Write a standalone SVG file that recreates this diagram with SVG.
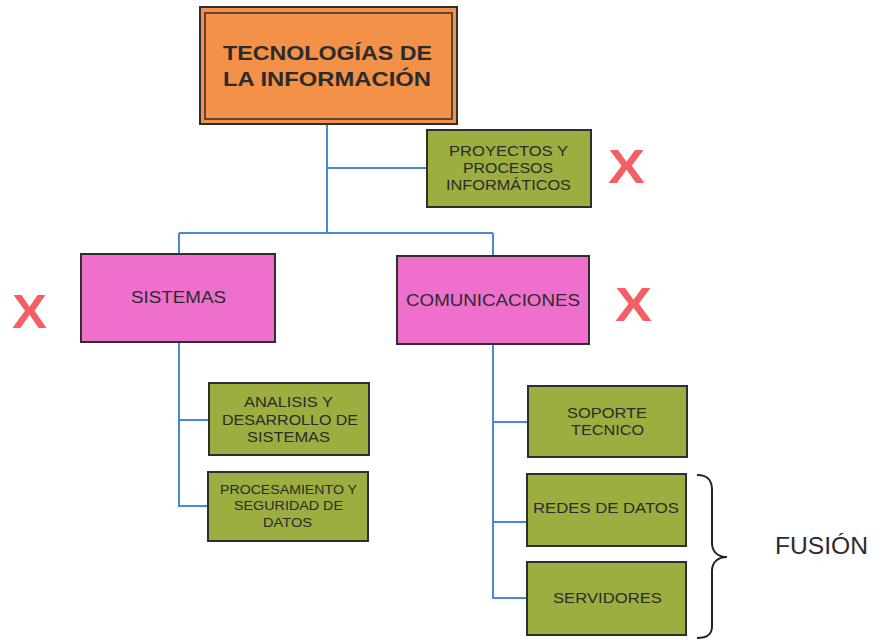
<svg xmlns="http://www.w3.org/2000/svg" width="883" height="640" viewBox="0 0 883 640">
<style>
  text { font-family: "Liberation Sans", Arial, sans-serif; fill: #2b2b2b; }
  .box { stroke: #2e2e2e; stroke-width: 2; }
  .orange { fill: #f39149; }
  .green { fill: #9bae3f; }
  .pink { fill: #ef6fcd; }
  .conn { fill: none; stroke: #4a87d6; stroke-width: 2; }
  .x { font-weight: bold; fill: #f55f63; font-size: 48px; }
  .t14 { font-size: 14px; }
  .t12 { font-size: 12px; }
  .t15 { font-size: 15px; }
  .t16 { font-size: 16px; }
  .title { font-size: 21px; font-weight: bold; }
</style>
<rect width="883" height="640" fill="#ffffff"/>
<g id="connectors">
  <path class="conn" d="M327 124 V233 M327 168 H427 M179 233 H493 M179 233 V254 M493 233 V256"/>
  <path class="conn" d="M179 342 V506 H208 M179 420 H209"/>
  <path class="conn" d="M493 344 V598 H527 M493 422 H528 M493 522 H527"/>
</g>
<g id="tecnologias">
  <rect class="box orange" x="200" y="7" width="257" height="117"/>
  <rect x="205" y="13" width="247" height="106" fill="none" stroke="#2e2e2e" stroke-width="1.5"/>
  <text class="title" x="223" y="60" textLength="209" lengthAdjust="spacingAndGlyphs">TECNOLOGÍAS DE</text>
  <text class="title" x="223" y="86" textLength="208" lengthAdjust="spacingAndGlyphs">LA INFORMACIÓN</text>
</g>
<g id="proyectos">
  <rect class="box green" x="427" y="130" width="164" height="77"/>
  <text class="t14" x="449" y="156" textLength="119" lengthAdjust="spacingAndGlyphs">PROYECTOS Y</text>
  <text class="t14" x="463" y="173" textLength="90" lengthAdjust="spacingAndGlyphs">PROCESOS</text>
  <text class="t14" x="446" y="190" textLength="125" lengthAdjust="spacingAndGlyphs">INFORMÁTICOS</text>
</g>
<g id="sistemas">
  <rect class="box pink" x="81" y="254" width="194" height="88"/>
  <text class="t16" x="131" y="303" textLength="95" lengthAdjust="spacingAndGlyphs">SISTEMAS</text>
</g>
<g id="comunicaciones">
  <rect class="box pink" x="397" y="256" width="192" height="88"/>
  <text class="t16" x="406" y="306" textLength="174" lengthAdjust="spacingAndGlyphs">COMUNICACIONES</text>
</g>
<g id="analisis">
  <rect class="box green" x="209" y="383" width="160" height="72"/>
  <text class="t14" x="244" y="407" textLength="89" lengthAdjust="spacingAndGlyphs">ANALISIS Y</text>
  <text class="t14" x="222" y="425" textLength="136" lengthAdjust="spacingAndGlyphs">DESARROLLO DE</text>
  <text class="t14" x="247" y="442" textLength="83" lengthAdjust="spacingAndGlyphs">SISTEMAS</text>
</g>
<g id="procesamiento">
  <rect class="box green" x="208" y="472" width="160" height="69"/>
  <text class="t12" x="220" y="494" textLength="137" lengthAdjust="spacingAndGlyphs">PROCESAMIENTO Y</text>
  <text class="t12" x="234" y="510" textLength="109" lengthAdjust="spacingAndGlyphs">SEGURIDAD DE</text>
  <text class="t12" x="263" y="527" textLength="49" lengthAdjust="spacingAndGlyphs">DATOS</text>
</g>
<g id="soporte">
  <rect class="box green" x="528" y="386" width="159" height="71"/>
  <text class="t15" x="567" y="418" textLength="80" lengthAdjust="spacingAndGlyphs">SOPORTE</text>
  <text class="t15" x="571" y="435" textLength="73" lengthAdjust="spacingAndGlyphs">TECNICO</text>
</g>
<g id="redes">
  <rect class="box green" x="527" y="474" width="159" height="72"/>
  <text class="t15" x="533" y="513" textLength="146" lengthAdjust="spacingAndGlyphs">REDES DE DATOS</text>
</g>
<g id="servidores">
  <rect class="box green" x="527" y="562" width="159" height="73"/>
  <text class="t15" x="553" y="603" textLength="109" lengthAdjust="spacingAndGlyphs">SERVIDORES</text>
</g>
<g id="marks">
  <text class="x" x="608" y="183" textLength="37" lengthAdjust="spacingAndGlyphs">X</text>
  <text class="x" x="12" y="328" textLength="35" lengthAdjust="spacingAndGlyphs">X</text>
  <text class="x" x="615" y="321" textLength="37" lengthAdjust="spacingAndGlyphs">X</text>
</g>
<g id="fusion">
  <path d="M697 475 C708 475 712 480 712 490 V543 C712 552 718 557 727 557 C718 557 712 562 712 571 V626 C712 634 708 638 697 638" fill="none" stroke="#222" stroke-width="2"/>
  <text x="775" y="554" font-size="24" textLength="93" lengthAdjust="spacingAndGlyphs">FUSIÓN</text>
</g>
</svg>
